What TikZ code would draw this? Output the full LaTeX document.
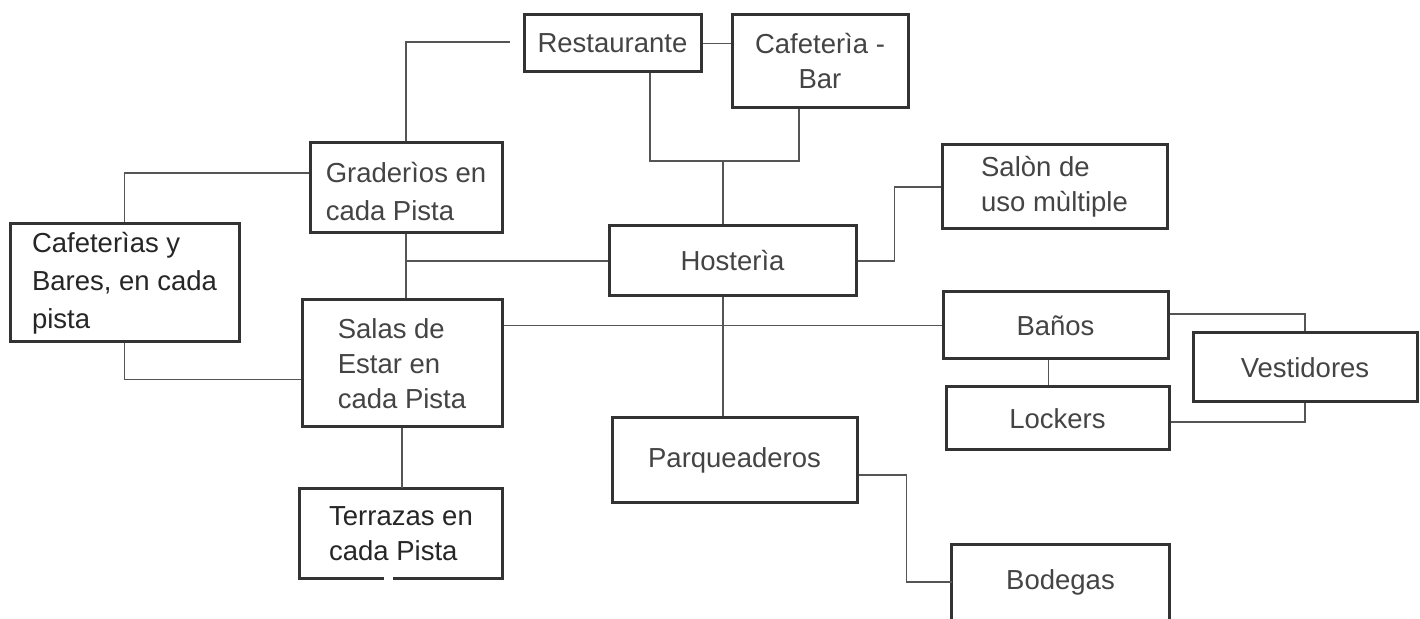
\documentclass[tikz,border=0pt]{standalone}
\usepackage{fontspec}
\setmainfont{Liberation Sans}
\usetikzlibrary{calc}
\definecolor{boxc}{HTML}{333333}
\definecolor{linec}{HTML}{555555}
\definecolor{txtc}{HTML}{444444}
\begin{document}
\begin{tikzpicture}[x=0.5pt,y=-0.5pt,
  box/.style={draw=boxc,line width=1.5pt,inner sep=0pt,rectangle,text=txtc,align=left,
              font=\fontsize{13.75}{17.5}\selectfont},
  sz/.style n args={2}{minimum width=#1*0.5pt,minimum height=#2*0.5pt},
  openbox/.style={box,draw=none},
  conn/.style={draw=linec,line width=0.8pt},
  side/.style={draw=boxc,line width=1.5pt,line cap=rect}]
\clip (0,0) rectangle (1420,619);
\fill[white] (0,0) rectangle (1420,619);

% boxes
\node[box,sz={177}{57}] (rest) at (612.5,43.5) {Restaurante};
\node[box,align=center,sz={176}{93}] (caf) at (820,61.5) {Cafeterìa -\\Bar};
\node[box,sz={192}{90}] (grad) at (406,188) {\raisebox{-3.5pt}[\height][\depth]{\begin{tabular}{@{}l@{}}Graderìos en\\[1.5pt]cada Pista\end{tabular}}};
\node[box,text=black!85,font=\fontsize{13.75}{19}\selectfont,sz={229}{118}] (cafs) at (124.5,283) {Cafeterìas y\\Bares, en cada\\pista};
\node[box,sz={200}{127}] (salas) at (402,363.5) {Salas de\\Estar en\\cada Pista};
\node[openbox,text=black!85,sz={200}{87}] (terr) at (401,533.5) {Terrazas en\\cada Pista};
\node[box,sz={247}{70}] (hos) at (732.5,261) {Hosterìa};
\node[box,sz={225}{84}] (salon) at (1054.5,187) {Salòn de\\uso mùltiple};
\node[box,sz={225}{67}] (banos) at (1055.5,325.5) {Baños};
\node[box,sz={223}{63}] (lock) at (1057.5,418.5) {Lockers};
\node[box,sz={224}{69}] (vest) at (1305,367.5) {Vestidores};
\node[box,sz={245}{85}] (par) at (734.5,460.5) {Parqueaderos};
\node[openbox,sz={215}{72}] (bod) at (1060.5,582) {Bodegas};

% open box outlines
\draw[side] (terr.south west) -- (terr.north west) -- (terr.north east) -- (terr.south east) -- ++(-108,0);
\draw[side] (terr.south west) -- ++(83,0);
\draw[side] ($(bod.south west)+(0,6)$) -- (bod.north west) -- (bod.north east) -- ($(bod.south east)+(0,6)$);

% connectors
\coordinate (gr) at (510,42);
\coordinate (rb) at (650,161);
\coordinate (cb) at (799,161);
\coordinate (hb) at (723,161);
\draw[conn] (rest.east) -- (rest.east -| caf.west);
\draw[conn] (grad.north) |- (gr);
\draw[conn] (rest.south -| rb) -- (rb) -- (cb) -- (caf.south -| cb);
\draw[conn] (hb) -- (hos.north -| hb);
\draw[conn] (hos.south -| hb) -- (par.north -| hb);
\draw[conn] (hos.east) -- ++(37,0) |- (salon.west);
\draw[conn] (grad.south) -- (grad.south |- salas.north);
\draw[conn] (grad.south |- hos.west) -- (hos.west);
\draw[conn] ([yshift=7.5pt]grad.west) -| (cafs.north);
\draw[conn] (cafs.south) |- ([yshift=-8pt]salas.west);
\draw[conn] (salas.east |- banos.west) -- (banos.west);
\draw[conn] (salas.south) -- (salas.south |- terr.north);
\draw[conn] ([xshift=-3.5pt]banos.south) -- ([xshift=-3.5pt]banos.south |- lock.north);
\draw[conn] ([yshift=5.75pt]banos.east) -| (vest.north);
\draw[conn] ([yshift=-1.75pt]lock.east) -| (vest.south);
\draw[conn] ([yshift=-7.25pt]par.east) -- ++(48,0) |- (bod.west);
\end{tikzpicture}
\end{document}
